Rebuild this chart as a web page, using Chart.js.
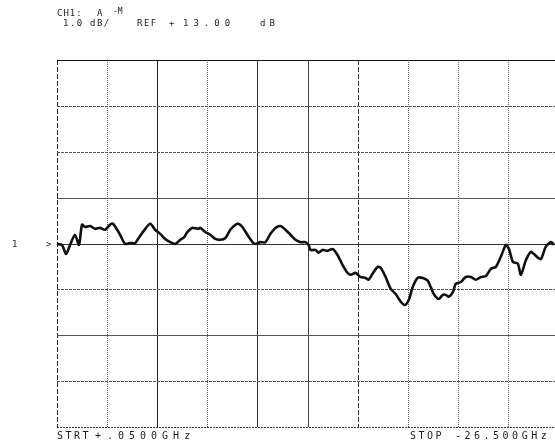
<!DOCTYPE html>
<html>
<head>
<meta charset="utf-8">
<script src="https://cdn.jsdelivr.net/npm/chart.js@4/dist/chart.umd.min.js"></script>
<style>
  html, body { margin: 0; padding: 0; background: #fff; overflow: hidden; }
  #wrap { position: absolute; left: 0; top: 0; width: 562px; height: 445px; }
</style>
</head>
<body>
<div id="wrap"><canvas id="trace" width="562" height="445"></canvas></div>
<script>
// sweep, GHz
const freqGHz = [
  0.05, 0.31, 0.53, 0.74, 1.00, 1.21, 1.37, 1.53, 1.80, 2.06, 2.32, 2.59, 2.85, 3.01,
  3.38, 3.65, 3.91, 4.18, 4.33, 4.71, 4.97, 5.23, 5.50, 5.76, 6.03, 6.29, 6.56, 6.77,
  6.93, 7.19, 7.51, 7.61, 7.88, 8.14, 8.41, 8.67, 8.94, 9.20, 9.47, 9.62, 9.84, 10.10,
  10.37, 10.52, 10.79, 11.05, 11.32, 11.58, 11.85, 12.11, 12.38, 12.64, 12.90, 13.17,
  13.33, 13.43, 13.70, 13.86, 14.07, 14.33, 14.60, 14.86, 15.13, 15.39, 15.55, 15.81,
  16.08, 16.34, 16.50, 16.71, 16.98, 17.14, 17.40, 17.67, 17.93, 18.20, 18.41, 18.62,
  18.83, 19.09, 19.36, 19.62, 19.78, 19.94, 20.20, 20.42, 20.58, 20.73, 20.95, 21.10,
  21.37, 21.63, 21.90, 22.16, 22.43, 22.69, 22.96, 23.22, 23.48, 23.75, 23.91, 24.12,
  24.38, 24.54, 24.81, 25.07, 25.23, 25.44, 25.60, 25.86, 26.13, 26.29
];
// CH1 magnitude, dB
const magDB = [
  12.99, 12.97, 12.77, 12.97, 13.19, 12.97, 13.41, 13.36, 13.38, 13.32, 13.34, 13.30, 13.41, 13.43,
  13.19, 12.99, 13.01, 13.01, 13.10, 13.32, 13.43, 13.30, 13.21, 13.10, 13.03, 12.99, 13.08, 13.14,
  13.25, 13.34, 13.32, 13.34, 13.25, 13.19, 13.10, 13.08, 13.12, 13.30, 13.41, 13.43, 13.36, 13.19,
  13.03, 12.99, 13.03, 13.03, 13.21, 13.34, 13.38, 13.30, 13.19, 13.08, 13.03, 13.03,
  12.97, 12.86, 12.86, 12.80, 12.86, 12.84, 12.88, 12.75, 12.53, 12.36, 12.32, 12.36,
  12.27, 12.25, 12.21, 12.34, 12.49, 12.47, 12.27, 12.01, 11.90, 11.73, 11.66, 11.77,
  12.05, 12.25, 12.25, 12.19, 12.05, 11.90, 11.79, 11.88, 11.88, 11.84, 11.94, 12.12,
  12.16, 12.27, 12.27, 12.21, 12.27, 12.29, 12.45, 12.49, 12.71, 12.97, 12.88, 12.60,
  12.56, 12.32, 12.64, 12.82, 12.77, 12.69, 12.66, 12.93, 13.03, 12.97
];

const startGHz = 0.05;
const stopGHz = 26.5;
const refDB = 13.0;
const scaleDB = 1.0;
const divsY = 8;
const divsX = 10;

const headerLine1 = ['CH1:', 'A', '-M'];
const headerLine2 = ['1.0', 'dB/', 'REF', '+', '13.00', 'dB'];
const footerStart = ['STRT', '+', '.0500GHz'];
const footerStop = ['STOP', '-26.500GHz'];

const ink = '#1c1c1c';

function txt(ctx, s, x, y, spacing, size) {
  ctx.font = (size || 9) + 'px "DejaVu Sans Mono", monospace';
  ctx.letterSpacing = (spacing || 0) + 'px';
  ctx.fillText(s, x, y);
}

// plotter-copy grid: some lines solid, some dotted or dashed
const vStyle = [
  ['#222', [5, 2]], ['#555', [1, 1]], ['#222', []], ['#555', [1, 1]], ['#333', []],
  ['#444', []], ['#333', [5, 2]], ['#555', [1, 1]], ['#666', [1, 1]], ['#666', [1, 1]], ['#333', []]
];
// index 0 = bottom line
const hStyle = [
  ['#333', [2, 1]], ['#555', [3, 1]], ['#555', []], ['#555', [3, 1]], ['#333', []],
  ['#555', []], ['#555', [3, 1]], ['#555', [3, 1]], ['#111', []]
];

const plotGrid = {
  id: 'plotGrid',
  beforeDatasetsDraw(chart) {
    const { ctx, chartArea: a, scales: { x, y } } = chart;
    ctx.save();
    ctx.lineWidth = 1;
    x.ticks.forEach((t, i) => {
      const px = Math.round(x.getPixelForValue(t.value)) + 0.5;
      const st = vStyle[i] || ['#555', []];
      ctx.strokeStyle = st[0];
      ctx.setLineDash(st[1]);
      ctx.beginPath(); ctx.moveTo(px, a.top); ctx.lineTo(px, a.bottom); ctx.stroke();
    });
    y.ticks.forEach((t, i) => {
      const py = Math.round(y.getPixelForValue(t.value)) + 0.5;
      const st = hStyle[i] || ['#555', []];
      ctx.strokeStyle = st[0];
      ctx.setLineDash(st[1]);
      ctx.beginPath(); ctx.moveTo(a.left, py); ctx.lineTo(a.right, py); ctx.stroke();
    });
    ctx.restore();
  }
};

const annotate = {
  id: 'annotate',
  afterDraw(chart) {
    const ctx = chart.ctx;
    const y0 = chart.scales.y.getPixelForValue(refDB);
    ctx.save();
    ctx.fillStyle = ink;
    ctx.textBaseline = 'alphabetic';
    // header
    txt(ctx, headerLine1[0], 57, 16, 1);
    txt(ctx, headerLine1[1], 97, 16, 0);
    txt(ctx, headerLine1[2], 113, 14, 0, 8);
    txt(ctx, headerLine2[0], 63, 26, 1.5);
    txt(ctx, headerLine2[1], 90, 26, 1.5);
    txt(ctx, headerLine2[2], 137, 26, 1.5);
    txt(ctx, headerLine2[3], 169, 26, 0);
    txt(ctx, headerLine2[4], 183, 26, 5);
    txt(ctx, headerLine2[5], 260, 26, 4);
    // channel marker and reference arrow
    txt(ctx, '1', 12, y0 + 3, 0);
    txt(ctx, '>', 46, y0 + 3, 0);
    // footer
    txt(ctx, footerStart[0], 57, 439, 2.5, 10);
    txt(ctx, footerStart[1], 95, 439, 0, 10);
    txt(ctx, footerStart[2], 107, 439, 5, 10);
    txt(ctx, footerStop[0], 410, 439, 2.5, 10);
    txt(ctx, footerStop[1], 455, 439, 3.5, 10);
    ctx.restore();
  }
};

new Chart(document.getElementById('trace'), {
  type: 'line',
  data: {
    datasets: [{
      data: freqGHz.map((f, i) => ({ x: f, y: magDB[i] })),
      borderColor: '#111',
      borderWidth: 2.6,
      pointRadius: 0,
      tension: 0.25,
      fill: false
    }]
  },
  options: {
    responsive: false,
    animation: false,
    layout: { padding: { left: 57, top: 60, right: 4, bottom: 18 } },
    plugins: { legend: { display: false }, tooltip: { enabled: false } },
    scales: {
      x: {
        type: 'linear',
        min: startGHz,
        max: stopGHz,
        afterBuildTicks(s) {
          s.ticks = Array.from({ length: divsX + 1 }, (_, i) => ({ value: startGHz + i * (stopGHz - startGHz) / divsX }));
        },
        ticks: { display: false },
        border: { display: false },
        grid: { display: false, drawTicks: false }
      },
      y: {
        type: 'linear',
        min: refDB - scaleDB * divsY / 2,
        max: refDB + scaleDB * divsY / 2,
        afterBuildTicks(s) {
          s.ticks = Array.from({ length: divsY + 1 }, (_, i) => ({ value: s.min + i * scaleDB }));
        },
        ticks: { display: false },
        border: { display: false },
        grid: { display: false, drawTicks: false }
      }
    }
  },
  plugins: [plotGrid, annotate]
});
</script>
</body>
</html>
